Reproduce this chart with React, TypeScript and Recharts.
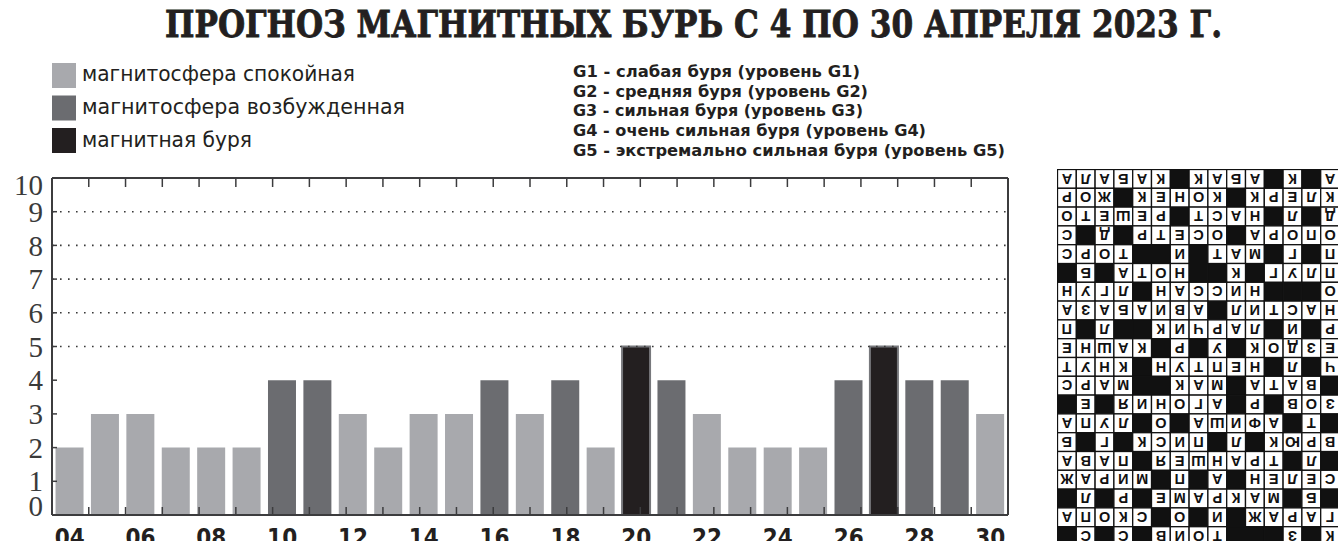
import { Bar, BarChart, Cell, ReferenceLine, XAxis, YAxis } from "recharts";

// April 2023, days 04..30
const days = [
  "04", "05", "06", "07", "08", "09", "10", "11", "12", "13", "14", "15", "16", "17",
  "18", "19", "20", "21", "22", "23", "24", "25", "26", "27", "28", "29", "30",
];
const kpIndex = [2, 3, 3, 2, 2, 2, 4, 4, 3, 2, 3, 3, 4, 3, 4, 2, 5, 4, 3, 2, 2, 2, 4, 5, 4, 4, 3];

const yTicks = [0, 1, 2, 3, 4, 5, 6, 7, 8, 9, 10];
const rightTicks = [1, 2, 3, 4, 5, 6, 7, 8, 9];
const gLevels = [5, 6, 7, 8, 9];
const gLabels = ["G1", "G2", "G3", "G4", "G5"];

const legendItems = ["магнитосфера спокойная", "магнитосфера возбужденная", "магнитная буря"];
const gDescriptions = [
  "G1 - слабая буря (уровень G1)",
  "G2 - средняя буря (уровень G2)",
  "G3 - сильная буря (уровень G3)",
  "G4 - очень сильная буря (уровень G4)",
  "G5 - экстремально сильная буря (уровень G5)",
];
const title = "ПРОГНОЗ МАГНИТНЫХ БУРЬ С 4 ПО 30 АПРЕЛЯ 2023 Г.";

// answers grid printed upside down next to the chart ("#" = black cell)
const crossword = [
  "АЛАБАК#КАБА#К#А",
  "РОЖ#КЕНОК#КРЕЛК",
  "ОТЕШЕР#ТСАН#Л#Д",
  "С#Д#РТЕСО#АРОПО",
  "СРОТ##И#ТАМ#Г#П",
  "#Б#АТОН##К#ГУЛП",
  "НУГЛ#НАССИН###О",
  "АЗАБАИВА#ЛИТСАН",
  "П#Л##КИЧРАЛ#И#Р",
  "ЕНШАК#Р#У#КОДЗЕ",
  "ТУНК#НУТПЕН#Л#Ч",
  "СРАМ##КАМ#АТАВ#",
  "#Е#ЯИНОГА#Р#ВОЗ",
  "АПУЛ#О#АШИФА#Т#",
  "Б#Г#КСИП#Л#КЮРВ",
  "АВАП#ЯЕШНАРТ#Л#",
  "ЖАРИМ#П#А#НЕЛЕС",
  "#Л#Р#ЕМАРКАМ#Б#",
  "АПОКС#О#И#ЖАРАГ",
  "#С#С#ВИОТ###З#К",
];

const STATUS_COLORS = ["#a8a9ad", "#6b6c70", "#231f20"];
const FRAME = "#3c3c3e";
const INK = "#231f20";
const SANS = "'DejaVu Sans Condensed', 'DejaVu Sans', sans-serif";
const SERIF = "'Liberation Serif', 'DejaVu Serif', serif";

const legendWidths = [273, 323, 170];
const gLineWidths = [287, 295, 290, 353, 432];

function statusOf(v: number) {
  if (v >= 5) return 2;
  if (v >= 4) return 1;
  return 0;
}

const chartData = days.map((day, i) => ({ day, kp: kpIndex[i] }));
const edgeTicks = days.slice(1).map((_, i) => i + 1);

function LeftTick(props: any) {
  const { x, y, payload } = props;
  const v = payload.value as number;
  const nudge = v === 10 ? 7 : v === 0 ? -9 : 0;
  return (
    <g>
      {v > 0 && v < 10 && (
        <line x1={x} x2={x + 5} y1={y} y2={y} stroke={FRAME} strokeWidth={1.5} />
      )}
      <text
        x={x - 9}
        y={y + nudge}
        dy="0.35em"
        textAnchor="end"
        fontFamily={SERIF}
        fontSize={29}
        fill="#3a3a3a"
      >
        {v}
      </text>
    </g>
  );
}

function RightTick(props: any) {
  const { x, y, payload } = props;
  const i = gLevels.indexOf(payload.value);
  return (
    <g>
      <line x1={x - 12} x2={x} y1={y} y2={y} stroke={FRAME} strokeWidth={1.5} />
      {i >= 0 && (
        <text
          x={x + 12}
          y={y}
          dy="0.36em"
          fontFamily={SANS}
          fontWeight="bold"
          fontSize={18}
          fill={INK}
        >
          {gLabels[i]}
        </text>
      )}
    </g>
  );
}

function DayTick(props: any) {
  const { x, y, payload, index } = props;
  if (index % 2 !== 0) return <g />;
  return (
    <text
      x={x}
      y={y + 31}
      textAnchor="middle"
      fontFamily={SANS}
      fontWeight="bold"
      fontSize={24}
      fill={INK}
    >
      {payload.value}
    </text>
  );
}

// inward tick marks on the band boundaries (top and bottom frame)
function TopEdgeTick(props: any) {
  const { x, y } = props;
  return <line x1={x} x2={x} y1={y} y2={y + 9} stroke={FRAME} strokeWidth={1.5} />;
}

function BottomEdgeTick(props: any) {
  const { x, y } = props;
  return <line x1={x} x2={x} y1={y} y2={y - 8} stroke={FRAME} strokeWidth={1.5} />;
}

function Header() {
  return (
    <svg width={1338} height={170} style={{ position: "absolute", left: 0, top: 0 }}>
      <text
        x={165}
        y={37}
        textLength={1057}
        lengthAdjust="spacingAndGlyphs"
        fontFamily="'DejaVu Serif', 'Liberation Serif', serif"
        fontWeight="bold"
        fontSize={38}
        fill={INK}
        stroke={INK}
        strokeWidth={0.9}
      >
        {title}
      </text>
      {legendItems.map((label, i) => (
        <g key={label}>
          <rect x={52} y={63 + i * 32.5} width={24} height={25} fill={STATUS_COLORS[i]} />
          <text
            x={82}
            y={81 + i * 33}
            textLength={legendWidths[i]}
            lengthAdjust="spacingAndGlyphs"
            fontFamily={SANS}
            fontSize={22}
            fill={INK}
          >
            {label}
          </text>
        </g>
      ))}
      {gDescriptions.map((line, i) => (
        <text
          key={line}
          x={573}
          y={77 + i * 19.7}
          textLength={gLineWidths[i]}
          lengthAdjust="spacingAndGlyphs"
          fontFamily={SANS}
          fontWeight="bold"
          fontSize={16.5}
          fill={INK}
        >
          {line}
        </text>
      ))}
    </svg>
  );
}

function Crossword() {
  const cell = 18.8;
  return (
    <svg
      width={300}
      height={390}
      style={{ position: "absolute", left: 1057, top: 169 }}
    >
      {crossword.map((row, r) =>
        Array.from(row).map((ch, c) => {
          const x = 0.5 + c * cell;
          const y = 0.5 + r * cell;
          if (ch === "#") {
            return <rect key={`${r}-${c}`} x={x} y={y} width={cell} height={cell} fill="#111" stroke="#111" />;
          }
          const cx = x + cell / 2;
          const cy = y + cell / 2;
          return (
            <g key={`${r}-${c}`}>
              <rect x={x} y={y} width={cell} height={cell} fill="#fff" stroke="#111" strokeWidth={1.3} />
              <text
                x={cx}
                y={cy}
                dy="0.36em"
                textAnchor="middle"
                fontFamily="'Liberation Sans', Arial, sans-serif"
                fontWeight="bold"
                fontSize={14.5}
                fill="#111"
                transform={`rotate(180 ${cx} ${cy})`}
              >
                {ch}
              </text>
            </g>
          );
        }),
      )}
    </svg>
  );
}

export default function App() {
  return (
    <div
      style={{
        position: "fixed",
        left: 0,
        top: 0,
        width: 1338,
        height: 541,
        overflow: "hidden",
        background: "#fff",
      }}
    >
      <Header />
      <div style={{ position: "absolute", left: 0, top: 160 }}>
        <BarChart
          width={1060}
          height={400}
          data={chartData}
          margin={{ top: 18, right: 0, left: 0, bottom: 0 }}
          barCategoryGap="10%"
        >
          <XAxis
            dataKey="day"
            interval={0}
            height={45}
            tickLine={false}
            tickSize={0}
            tickMargin={0}
            axisLine={{ stroke: FRAME, strokeWidth: 2 }}
            tick={DayTick}
          />
          <XAxis
            xAxisId="edgeTop"
            type="number"
            orientation="top"
            domain={[0, days.length]}
            allowDataOverflow
            ticks={edgeTicks}
            interval={0}
            mirror
            height={1}
            tickLine={false}
            tickSize={0}
            tickMargin={0}
            tick={TopEdgeTick}
            axisLine={{ stroke: FRAME, strokeWidth: 2 }}
          />
          <XAxis
            xAxisId="edgeBottom"
            type="number"
            orientation="bottom"
            domain={[0, days.length]}
            allowDataOverflow
            ticks={edgeTicks}
            interval={0}
            mirror
            height={1}
            tickLine={false}
            tickSize={0}
            tickMargin={0}
            tick={BottomEdgeTick}
            axisLine={false}
          />
          <YAxis
            domain={[0, 10]}
            ticks={yTicks}
            interval={0}
            width={52}
            tickLine={false}
            tickSize={0}
            tickMargin={0}
            axisLine={{ stroke: FRAME, strokeWidth: 2 }}
            tick={LeftTick}
          />
          <YAxis
            yAxisId="g"
            orientation="right"
            domain={[0, 10]}
            ticks={rightTicks}
            interval={0}
            width={52}
            tickLine={false}
            tickSize={0}
            tickMargin={0}
            axisLine={{ stroke: FRAME, strokeWidth: 2 }}
            tick={RightTick}
          />
          <Bar dataKey="kp" isAnimationActive={false}>
            {chartData.map((d) => {
              const s = statusOf(d.kp);
              return (
                <Cell
                  key={d.day}
                  fill={STATUS_COLORS[s]}
                  stroke={s === 2 ? "#77787c" : "none"}
                  strokeWidth={s === 2 ? 2 : 0}
                />
              );
            })}
          </Bar>
          {gLevels.map((v) => (
            <ReferenceLine
              key={v}
              y={v}
              stroke="#3a3a3a"
              strokeWidth={1.6}
              strokeDasharray="1.6 6.4"
            />
          ))}
        </BarChart>
      </div>
      <Crossword />
    </div>
  );
}
